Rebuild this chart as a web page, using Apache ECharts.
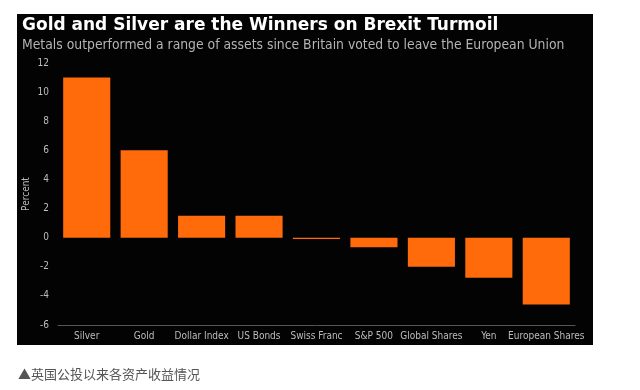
<!DOCTYPE html>
<html>
<head>
<meta charset="utf-8">
<script src="https://cdn.jsdelivr.net/npm/echarts@6/dist/echarts.min.js"></script>
<style>
html,body{margin:0;padding:0;background:#fff;}
#c{width:640px;height:390px;}
</style>
</head>
<body>
<div id="c"></div>
<script>
const categories = ["Silver","Gold","Dollar Index","US Bonds","Swiss Franc","S&P 500","Global Shares","Yen","European Shares"];
const returns = [11.0, 6.0, 1.5, 1.5, -0.1, -0.65, -2.0, -2.75, -4.6];
const yTicks = {min:-6, max:12, interval:2};
const titleText = "Gold and Silver are the Winners on Brexit Turmoil";
const subtitleText = "Metals outperformed a range of assets since Britain voted to leave the European Union";
const captionText = "▲英国公投以来各资产收益情况";

const chart = echarts.init(document.getElementById('c'), null, {renderer:'canvas'});
chart.setOption({
  backgroundColor:'#ffffff',
  animation:false,
  graphic:[
    {type:'rect', z:-10, shape:{x:17,y:14,width:576,height:331}, style:{fill:'#030303'}},
    {type:'text', left:18, top:368, style:{text:captionText, fill:'#555', font:'13px "Noto Sans CJK SC"'}}
  ],
  title:{
    text:titleText,
    subtext:subtitleText,
    left:17, top:12,
    itemGap:4,
    textStyle:{color:'#fff', fontFamily:'DejaVu Sans', fontWeight:'bold', fontSize:17},
    subtextStyle:{color:'#b4b4b4', fontFamily:'DejaVu Sans Condensed', fontSize:13.8}
  },
  grid:{left:58, right:65, top:63, bottom:65},
  xAxis:{
    type:'category',
    data:categories,
    position:'bottom',
    axisLine:{onZero:false, lineStyle:{color:'#555', width:1}},
    axisTick:{alignWithLabel:true, inside:true, length:2, lineStyle:{color:'#666'}},
    axisLabel:{color:'#bdbdbd', fontSize:10, fontFamily:'DejaVu Sans Condensed', margin:6, interval:0}
  },
  yAxis:{
    type:'value',
    min:yTicks.min, max:yTicks.max, interval:yTicks.interval,
    name:'Percent',
    nameLocation:'middle',
    nameGap:27,
    nameMoveOverlap:false,
    nameTextStyle:{color:'#bdbdbd', fontSize:10, fontFamily:'DejaVu Sans Condensed'},
    axisLine:{show:false},
    axisTick:{show:false},
    splitLine:{show:false},
    axisLabel:{color:'#bdbdbd', fontSize:10, fontFamily:'DejaVu Sans Condensed', margin:9}
  },
  series:[{
    type:'bar',
    data:returns,
    barWidth:'82%',
    itemStyle:{color:'#ff6a0a'}
  }]
});
</script>
</body>
</html>
